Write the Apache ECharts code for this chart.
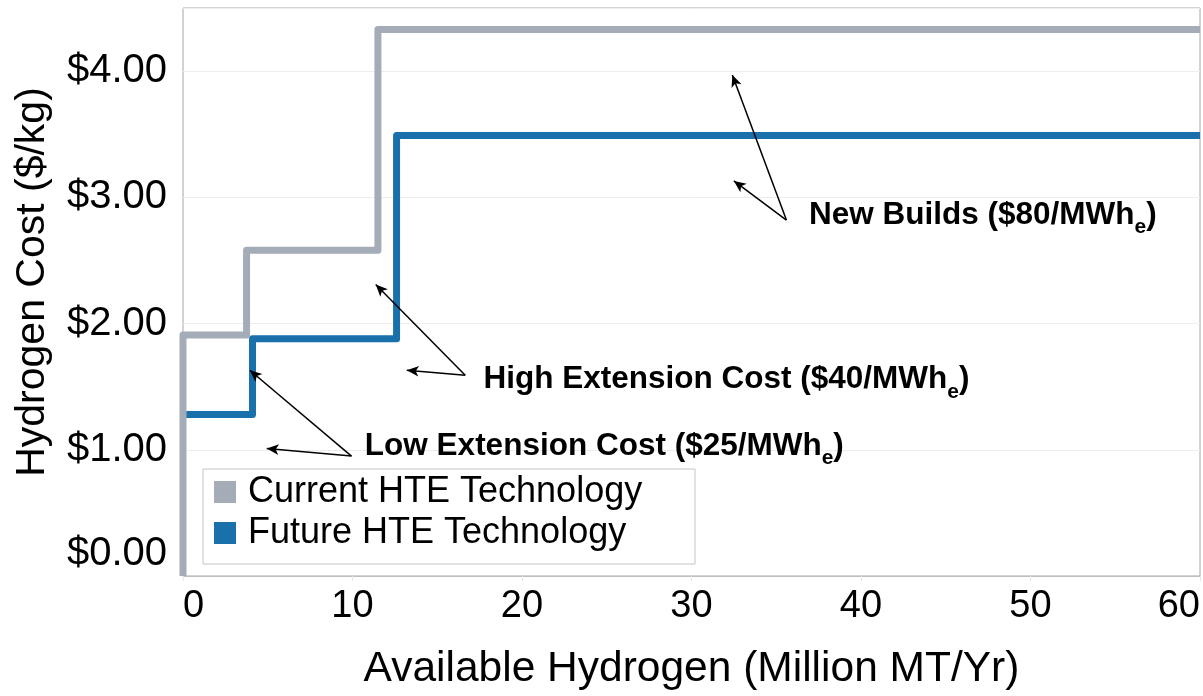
<!DOCTYPE html>
<html>
<head>
<meta charset="utf-8">
<script src="https://cdn.jsdelivr.net/npm/echarts@6/dist/echarts.min.js"></script>
<style>html,body{margin:0;padding:0;background:#fff;}#c{width:1203px;height:696px;}</style>
</head>
<body>
<div id="c"></div>
<script>
// ---- data ----
const seriesNames = ['Current HTE Technology', 'Future HTE Technology'];
// step breakpoints (Million MT/Yr) and cost levels ($/kg)
const currentX = [0, 0, 3.75, 11.5, 60];
const currentY = [0, 1.91, 2.58, 4.33, 4.33];
const futureX = [0, 4.1, 12.6, 60];
const futureY = [1.28, 1.88, 3.49, 3.49];
const xTicks = [0, 10, 20, 30, 40, 50, 60];
const yTicks = [0, 1, 2, 3, 4];
// annotations: label anchor and arrow tails/heads (data coords)
const annoLabels = [
  {main: 'New Builds ($80/MWh', at: [36.9, 2.86]},
  {main: 'High Extension Cost ($40/MWh', at: [17.7, 1.555]},
  {main: 'Low Extension Cost ($25/MWh', at: [10.7, 1.03]}
];
const arrows = [
  [[35.6, 2.82], [32.41, 3.97]],
  [[35.6, 2.82], [32.5, 3.13]],
  [[16.65, 1.59], [11.37, 2.31]],
  [[16.65, 1.59], [13.2, 1.63]],
  [[9.94, 0.95], [3.94, 1.63]],
  [[9.94, 0.95], [4.94, 1.01]]
];

const FONT = "'Liberation Sans', Arial, sans-serif";
const chart = echarts.init(document.getElementById('c'), null, {renderer: 'canvas'});

function pairs(xs, ys) { return xs.map((x, i) => [x, ys[i]]); }

const option = {
  animation: false,
  backgroundColor: '#fff',
  textStyle: {fontFamily: FONT},
  grid: {left: 183, top: 8, right: -1, bottom: 115, show: true, borderColor: '#a6a6a6', borderWidth: 1, containLabel: false},
  xAxis: {
    type: 'value', min: 0, max: 60, interval: 10,
    axisLine: {show: true, lineStyle: {color: '#bdbdbd', width: 1}},
    axisTick: {show: true, length: 5, lineStyle: {color: '#e6e6e6'}},
    splitLine: {show: false},
    axisLabel: {fontSize: 38, color: '#000', margin: 12, fontFamily: FONT,
      alignMinLabel: 'left', alignMaxLabel: 'right',
      formatter: v => xTicks.indexOf(v) >= 0 ? String(v) : ''},
    name: 'Available Hydrogen (Million MT/Yr)', nameLocation: 'middle', nameGap: 72,
    nameTextStyle: {fontSize: 42.5, color: '#000', fontFamily: FONT}
  },
  yAxis: {
    type: 'value', min: 0, max: 4.5, interval: 1,
    axisLine: {show: false}, axisTick: {show: false},
    splitLine: {show: true, lineStyle: {color: '#ededed', width: 1}},
    axisLabel: {fontSize: 40, color: '#000', margin: 16, fontFamily: FONT,
      formatter: v => yTicks.indexOf(v) < 0 ? '' : (v === 0 ? '{z|$0.00}' : '$' + v.toFixed(2)),
      rich: {z: {fontSize: 40, color: '#000', fontFamily: FONT, padding: [0, 0, 44, 0]}}}
  },
  legend: {
    orient: 'vertical', left: 203, top: 469,
    padding: [5, 10, 13, 11], itemGap: 5, itemWidth: 22, itemHeight: 22, icon: 'rect',
    backgroundColor: '#fff', borderColor: '#c4c4c4', borderWidth: 1,
    textStyle: {fontSize: 36, color: '#000', fontFamily: FONT, lineHeight: 36, width: 437, padding: [0, 0, 0, 7]},
    itemStyle: {borderWidth: 0},
    data: seriesNames
  },
  graphic: [{
    type: 'text', x: 33, y: 282, rotation: Math.PI / 2,
    style: {text: 'Hydrogen Cost ($/kg)', font: '41px ' + FONT, fill: '#000', align: 'center', verticalAlign: 'middle'}
  }],
  series: [
    {
      name: seriesNames[0], type: 'line', step: 'end', z: 3, showSymbol: false, symbol: 'none',
      data: pairs(currentX, currentY),
      itemStyle: {color: '#a4acb8'},
      lineStyle: {color: '#a4acb8', width: 7, join: 'round', cap: 'butt'},
      markLine: {
        silent: true, symbol: ['none', 'arrow'], symbolSize: [8, 12], animation: false,
        label: {show: false},
        lineStyle: {color: '#000', width: 1.5, type: 'solid'},
        data: arrows.map(a => [{coord: a[0]}, {coord: a[1]}])
      },
      markPoint: {
        silent: true, symbol: 'circle', symbolSize: 1, itemStyle: {color: 'rgba(0,0,0,0)'},
        label: {
          show: true, position: 'right', distance: 0,
          formatter: p => '{b|' + p.name + '}{s|e}{b|)}',
          rich: {
            b: {fontSize: 31.5, fontWeight: 'bold', color: '#000', fontFamily: FONT, lineHeight: 46},
            s: {fontSize: 21, fontWeight: 'bold', color: '#000', fontFamily: FONT, lineHeight: 46, verticalAlign: 'bottom'}
          }
        },
        data: annoLabels.map(a => ({name: a.main, coord: a.at}))
      }
    },
    {
      name: seriesNames[1], type: 'line', step: 'end', z: 2, showSymbol: false, symbol: 'none',
      data: pairs(futureX, futureY),
      itemStyle: {color: '#1a70aa'},
      lineStyle: {color: '#1a70aa', width: 7, join: 'round', cap: 'butt'}
    }
  ]
};
chart.setOption(option);
</script>
</body>
</html>
